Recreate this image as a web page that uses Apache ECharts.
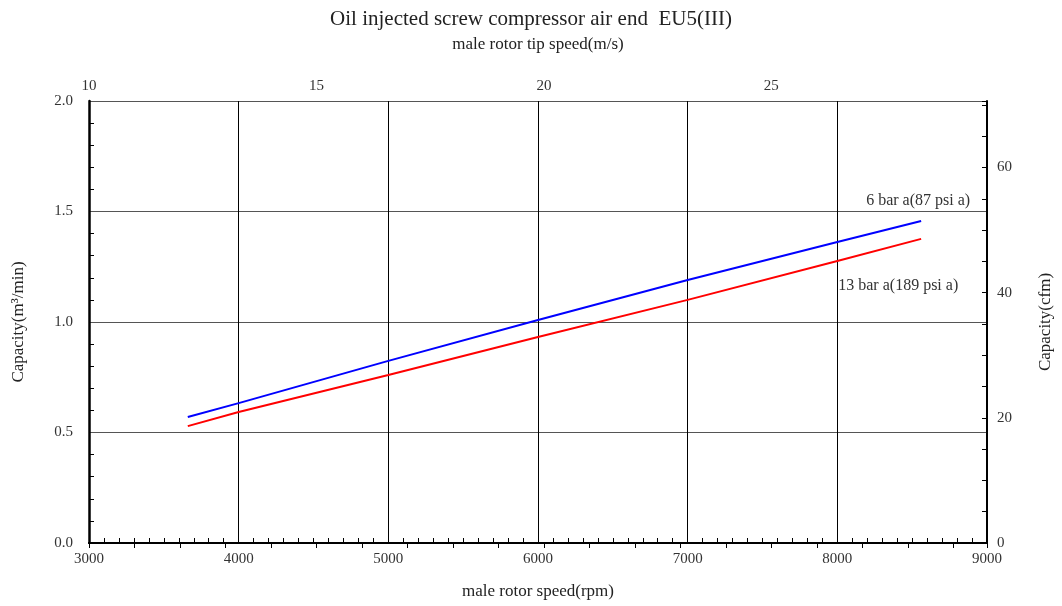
<!DOCTYPE html>
<html>
<head>
<meta charset="utf-8">
<script src="https://cdn.jsdelivr.net/npm/echarts@6/dist/echarts.min.js"></script>
<style>html,body{margin:0;padding:0;background:#fff}#c{width:1062px;height:606px}</style>
</head>
<body>
<div id="c"></div>
<script>
// Data
const rpm = [3660, 4000, 5000, 6000, 7000, 8000, 8560];
const cap6bar = [0.570, 0.633, 0.824, 1.009, 1.190, 1.362, 1.457];
const cap13bar = [0.529, 0.593, 0.760, 0.932, 1.100, 1.276, 1.376];
const seriesNames = ['6 bar a(87 psi a)', '13 bar a(189 psi a)'];
const labelAnchors = [[8540, 1.548], [8407, 1.163]];

const F = 'Liberation Serif';
const chart = echarts.init(document.getElementById('c'));
const zip = (xs, ys) => xs.map((x, i) => [x, ys[i]]);
const note = (i) => ({
  symbol: 'circle', symbolSize: 1, silent: true,
  itemStyle: {color: 'rgba(0,0,0,0)'},
  label: {show: true, position: 'inside', formatter: seriesNames[i],
    fontFamily: F, fontSize: 16, color: '#333'},
  data: [{coord: labelAnchors[i]}]
});

chart.setOption({
  animation: false,
  title: {
    text: 'Oil injected screw compressor air end  EU5(III)',
    left: 'center', top: 4,
    textStyle: {fontFamily: F, fontSize: 21, fontWeight: 'normal', color: '#222'}
  },
  grid: {left: 89, right: 72, top: 101, bottom: 63},
  xAxis: [{
    type: 'value', position: 'bottom', min: 3000, max: 9000, interval: 1000,
    name: 'male rotor speed(rpm)', nameLocation: 'middle', nameGap: 40,
    nameTextStyle: {fontFamily: F, fontSize: 17, color: '#222'},
    axisLine: {lineStyle: {color: '#000', width: 2}},
    axisTick: {show: false, inside: true},
    minorTick: {show: true, splitNumber: 10, length: 5, lineStyle: {color: '#000'}},
    axisLabel: {fontFamily: F, fontSize: 15, color: '#333', margin: 9,
      formatter: v => String(v)},
    splitLine: {show: true, lineStyle: {color: '#000', width: 1}}
  }, {
    type: 'value', position: 'top', min: 10, max: 29.74, interval: 1,
    name: 'male rotor tip speed(m/s)', nameLocation: 'middle', nameGap: 48,
    nameTextStyle: {fontFamily: F, fontSize: 17, color: '#222'},
    axisLine: {lineStyle: {color: '#000', width: 2}},
    axisTick: {show: true, inside: true, length: 5, lineStyle: {color: '#000'}},
    axisLabel: {fontFamily: F, fontSize: 15, color: '#333', margin: 7,
      formatter: v => (Math.abs(v % 5) < 1e-6 ? String(v) : '')},
    splitLine: {show: false}
  }],
  yAxis: [{
    type: 'value', position: 'left', min: 0, max: 2, interval: 0.5,
    name: 'Capacity(m³/min)', nameLocation: 'middle', nameGap: 62, nameRotate: 90,
    nameTextStyle: {fontFamily: F, fontSize: 17, color: '#222'},
    axisLine: {show: true, lineStyle: {color: '#000', width: 2.5}},
    axisTick: {show: false, inside: true},
    minorTick: {show: true, splitNumber: 5, length: 5, lineStyle: {color: '#000'}},
    axisLabel: {fontFamily: F, fontSize: 15, color: '#333', margin: 16,
      formatter: v => v.toFixed(1)},
    splitLine: {show: true, lineStyle: {color: '#555', width: 1}}
  }, {
    type: 'value', position: 'right', min: 0, max: 70.63, interval: 5,
    name: 'Capacity(cfm)', nameLocation: 'middle', nameGap: 50, nameRotate: 90,
    nameTextStyle: {fontFamily: F, fontSize: 17, color: '#222'},
    axisLine: {show: true, lineStyle: {color: '#000', width: 2}},
    axisTick: {show: true, inside: true, length: 5, lineStyle: {color: '#000'}},
    axisLabel: {fontFamily: F, fontSize: 15, color: '#333', margin: 10,
      formatter: v => (Math.abs(v % 20) < 1e-6 ? String(v) : '')},
    splitLine: {show: false}
  }],
  series: [{
    name: seriesNames[0], type: 'line', xAxisIndex: 0, yAxisIndex: 0,
    data: zip(rpm, cap6bar), showSymbol: false, symbol: 'none',
    lineStyle: {color: '#0000ff', width: 2}, itemStyle: {color: '#0000ff'},
    markPoint: note(0)
  }, {
    name: seriesNames[1], type: 'line', xAxisIndex: 0, yAxisIndex: 0,
    data: zip(rpm, cap13bar), showSymbol: false, symbol: 'none',
    lineStyle: {color: '#ff0000', width: 2}, itemStyle: {color: '#ff0000'},
    markPoint: note(1)
  }]
});
</script>
</body>
</html>
